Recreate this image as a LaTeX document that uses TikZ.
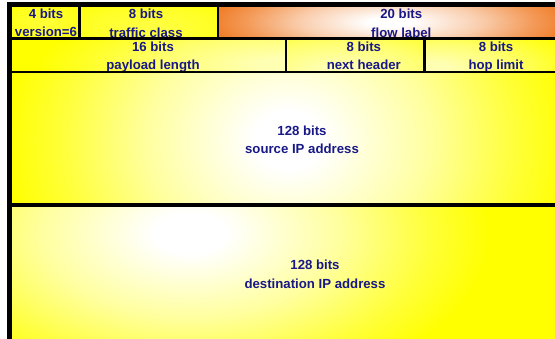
\documentclass[tikz,border=0pt]{standalone}
\usepackage{fontspec}
\setmainfont{Liberation Sans}
\definecolor{navy}{RGB}{24,24,135}
\definecolor{ylw}{RGB}{255,255,0}
\definecolor{org}{RGB}{240,125,40}
\colorlet{ylwA}{ylw!38!white}
\colorlet{ylwB}{ylw!78!white}
\colorlet{orgA}{org!38!white}
\colorlet{orgB}{org!78!white}
\pgfdeclareradialshading{yglow}{\pgfpoint{0bp}{0bp}}{color(0bp)=(white); color(3bp)=(white); color(12.5bp)=(ylwA); color(20bp)=(ylwB); color(25bp)=(ylw); color(50bp)=(ylw)}
\pgfdeclareradialshading{oglow}{\pgfpoint{0bp}{0bp}}{color(0bp)=(white); color(3bp)=(white); color(12.5bp)=(orgA); color(20bp)=(orgB); color(25bp)=(org); color(50bp)=(org)}
\begin{document}
\begin{tikzpicture}[x=1pt,y=-1pt,
  lbl/.style={font=\bfseries\fontsize{13.2}{15}\selectfont, text=navy, anchor=base, inner sep=0pt},
  rule/.style={draw=black, line width=2.4pt},
  thickrule/.style={draw=black, line width=3.3pt}]
\useasboundingbox (0,0) rectangle (555,339);
\fill[white] (0,0) rectangle (555,339);
% base fills
\fill[ylw] (11,7) rectangle (555,339);
\fill[org] (218,7) rectangle (555,39);
% glows
\begin{scope}\clip (11,7) rectangle (80,39);
  \shade[shading=yglow, opacity=0.2] (45,22) ellipse (60 and 30);\end{scope}
\begin{scope}\clip (80,7) rectangle (218,39);
  \shade[shading=yglow, opacity=0.25] (150,28) ellipse (120 and 40);\end{scope}
\begin{scope}\clip (218,7) rectangle (555,39);
  \shade[shading=oglow] (390,22) ellipse (180 and 42);\end{scope}
\begin{scope}\clip (11,39) rectangle (286,72);
  \shade[shading=yglow, opacity=0.7] (285,65) ellipse (250 and 60);\end{scope}
\begin{scope}\clip (286,39) rectangle (425,72);
  \shade[shading=yglow, opacity=0.7] (340,72) ellipse (170 and 60);\end{scope}
\begin{scope}\clip (425,39) rectangle (555,72);
  \shade[shading=yglow, opacity=0.7] (430,68) ellipse (160 and 50);\end{scope}
\begin{scope}\clip (11,72) rectangle (555,205);
  \shade[shading=yglow] (288,140) ellipse (285 and 240);\end{scope}
\begin{scope}\clip (11,205) rectangle (555,339);
  \shade[shading=yglow] (190,233) ellipse (300 and 170);\end{scope}
% labels
\node[lbl] (verBits) at (46,19) {4 bits};
\node[lbl] (verName) at (46,36.5) {version=6};
\node[lbl] (tcBits) at (146,19) {8 bits};
\node[lbl] (tcName) at (146,37.8) {traffic class};
\node[lbl] (flBits) at (401.3,19) {20 bits};
\node[lbl] (flName) at (401.3,37.8) {flow label};
\node[lbl] (plBits) at (153,51.7) {16 bits};
\node[lbl] (plName) at (153,69.5) {payload length};
\node[lbl] (nhBits) at (363.8,51.7) {8 bits};
\node[lbl] (nhName) at (363.8,69.5) {next header};
\node[lbl] (hlBits) at (496,51.7) {8 bits};
\node[lbl] (hlName) at (496,69.5) {hop limit};
\node[lbl] (srcBits) at (302,136) {128 bits};
\node[lbl] (srcName) at (302,154) {source IP address};
\node[lbl] (dstBits) at (315,270) {128 bits};
\node[lbl] (dstName) at (315,289) {destination IP address};
% rules
\fill[black] (7.3,2.5) rectangle (555,7.3);
\fill[black] (7.3,2.5) rectangle (11.7,339);
\draw[rule] (11.7,38.7) -- (555,38.7);
\draw[rule] (11.7,72.2) -- (555,72.2);
\draw[thickrule] (11.7,205) -- (555,205);
\draw[rule] (79.5,7.3) -- (79.5,38.7);
\draw[rule] (217.8,7.3) -- (217.8,38.7);
\draw[rule] (285.7,38.7) -- (285.7,72.2);
\draw[rule] (424.5,38.7) -- (424.5,72.2);
\end{tikzpicture}
\end{document}
